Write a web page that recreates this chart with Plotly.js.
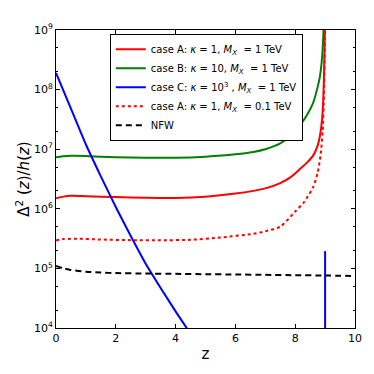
<!DOCTYPE html>
<html>
<head>
<meta charset="utf-8">
<script src="https://cdn.plot.ly/plotly-3.0.1.min.js"></script>
<style>
  html, body { margin: 0; padding: 0; background: #fff; }
  #chart { width: 374px; height: 374px; }
</style>
</head>
<body>
<div id="chart"></div>
<script>
// case A, kappa = 1, M_X = 1 TeV
var zA = [0, 0.25, 0.5, 1, 2, 3, 4, 5, 6, 6.6, 7, 7.5, 7.85, 8.15, 8.4, 8.6, 8.75, 8.83, 8.9, 8.94, 8.97, 8.99, 9.0];
var yA = [1.5e6, 1.6e6, 1.65e6, 1.63e6, 1.57e6, 1.53e6, 1.52e6, 1.6e6, 1.8e6, 2.0e6, 2.2e6, 2.7e6, 3.4e6, 4.6e6, 6.0e6, 7.8e6, 1.15e7, 1.7e7, 3.2e7, 7e7, 2.5e8, 8e8, 3e9];

// case B, kappa = 10, M_X = 1 TeV
var zB = [0, 0.25, 0.5, 1, 1.5, 2, 3, 4, 5, 6, 6.6, 7, 7.5, 7.85, 8.15, 8.4, 8.6, 8.75, 8.83, 8.9, 8.94, 8.97, 9.0];
var yB = [7.3e6, 7.6e6, 7.75e6, 7.7e6, 7.5e6, 7.35e6, 7.2e6, 7.2e6, 7.5e6, 8.2e6, 9e6, 1.0e7, 1.25e7, 1.7e7, 2.5e7, 3.8e7, 6e7, 1.1e8, 1.7e8, 3.5e8, 8e8, 2e9, 5e9];

// case C, kappa = 10^3, M_X = 1 TeV (plus the spike at z = 9)
var zC = [0, 0.5, 1, 1.5, 2, 2.5, 3, 3.5, 4, 4.5, null, 9.0, 9.0];
var yC = [1.9e8, 4.8e7, 1.2e7, 3.5e6, 1.07e6, 3.5e5, 1.2e5, 4.7e4, 1.9e4, 8e3, null, 5e3, 1.95e5];

// case A, kappa = 1, M_X = 0.1 TeV
var zD = [0, 0.25, 0.7, 1.5, 2.5, 3.5, 4.5, 5.5, 6.6, 7, 7.5, 8, 8.3, 8.6, 8.75, 8.85, 8.92, 8.96, 8.99, 9.0];
var yD = [2.95e5, 3.1e5, 3.15e5, 3.05e5, 2.98e5, 2.97e5, 3.02e5, 3.3e5, 3.8e5, 4.2e5, 5.0e5, 9e5, 1.3e6, 2.3e6, 4e6, 8e6, 2e7, 8e7, 5e8, 3e9];

// NFW
var zN = [0, 0.25, 0.5, 1, 1.5, 2, 3, 4, 5, 6, 7, 8, 9, 10];
var yN = [1.1e5, 1.0e5, 9.4e4, 8.8e4, 8.5e4, 8.35e4, 8.2e4, 8.1e4, 8.0e4, 7.9e4, 7.8e4, 7.7e4, 7.6e4, 7.45e4];

var yTickVals = [1e4, 1e5, 1e6, 1e7, 1e8, 1e9];
var yTickText = ['10<sup>4</sup>', '10<sup>5</sup>', '10<sup>6</sup>', '10<sup>7</sup>', '10<sup>8</sup>', '10<sup>9</sup>'];
var xTickVals = [0, 2, 4, 6, 8, 10];

var names = [
  'case A: <i>κ</i> = 1, <i>M<sub>X</sub></i>  = 1 TeV',
  'case B: <i>κ</i> = 10, <i>M<sub>X</sub></i>  = 1 TeV',
  'case C: <i>κ</i> = 10<sup>3</sup> , <i>M<sub>X</sub></i>  = 1 TeV',
  'case A: <i>κ</i> = 1, <i>M<sub>X</sub></i>  = 0.1 TeV',
  'NFW'
];

function line(x, y, name, color, dash) {
  return {
    x: x, y: y, name: name,
    type: 'scatter', mode: 'lines',
    line: { color: color, width: 2, dash: dash, shape: 'spline', smoothing: 0.6 },
    connectgaps: false
  };
}

var data = [
  line(zA, yA, names[0], '#ff0000', 'solid'),
  line(zB, yB, names[1], '#008000', 'solid'),
  line(zC, yC, names[2], '#0000ff', 'solid'),
  line(zD, yD, names[3], '#ff0000', 'dot'),
  line(zN, yN, names[4], '#000000', '6px,4px')
];

var layout = {
  width: 374,
  height: 374,
  margin: { l: 56, r: 19, t: 30, b: 46 },
  paper_bgcolor: '#ffffff',
  plot_bgcolor: '#ffffff',
  font: { family: 'DejaVu Sans, sans-serif', size: 11, color: '#000' },
  showlegend: true,
  legend: {
    x: 0.18, y: 0.987, xanchor: 'left', yanchor: 'top',
    bgcolor: '#ffffff', bordercolor: '#000000', borderwidth: 1,
    font: { family: 'DejaVu Sans, sans-serif', size: 10 },
    tracegroupgap: 0
  },
  xaxis: {
    range: [0, 10],
    tickvals: xTickVals,
    ticks: 'inside', ticklen: 4, tickcolor: '#000',
    showline: true, linecolor: '#000', linewidth: 1, mirror: 'allticks',
    showgrid: false, zeroline: false,
    tickfont: { size: 11 },
    title: { text: 'z', font: { size: 15 }, standoff: 4 }
  },
  yaxis: {
    type: 'log',
    range: [4, 9],
    tickvals: yTickVals, ticktext: yTickText,
    ticks: 'inside', ticklen: 4, tickcolor: '#000',
    minor: { ticks: 'inside', ticklen: 2, tickcolor: '#000', showgrid: false },
    showline: true, linecolor: '#000', linewidth: 1, mirror: 'allticks',
    showgrid: false, zeroline: false,
    tickfont: { size: 11 },
    title: { text: 'Δ<sup>2</sup> (<i>z</i>)/<i>h</i>(<i>z</i>)', font: { size: 15 }, standoff: 0 }
  }
};

Plotly.newPlot('chart', data, layout, { displayModeBar: false, staticPlot: true });
</script>
</body>
</html>
